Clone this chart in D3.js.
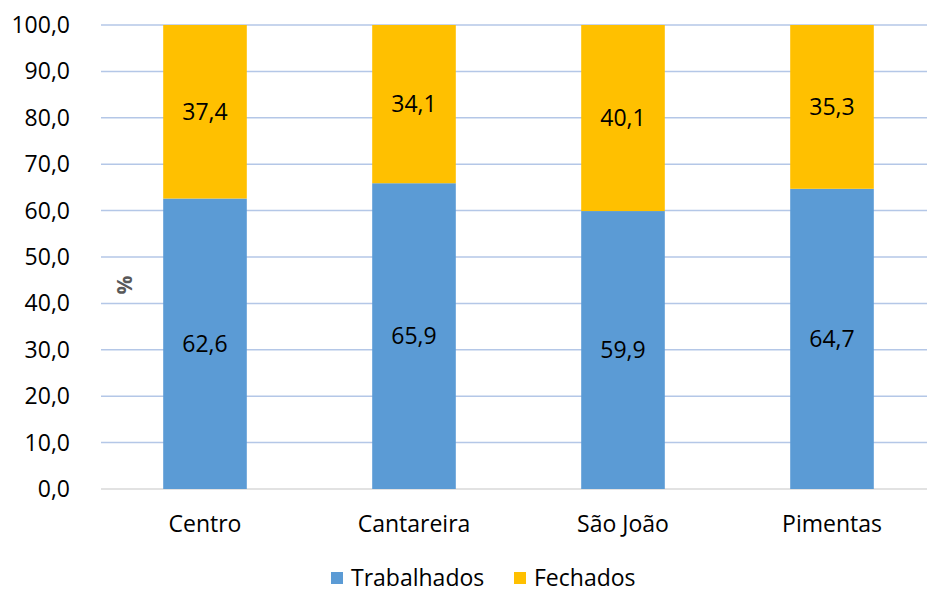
<!DOCTYPE html>
<html>
<head>
  <meta charset="utf-8">
  <script src="https://d3js.org/d3.v7.min.js"></script>
  <style>
    body { margin:0; background:#fff; font-family: "Open Sans", sans-serif; }
    text { font-family: "Open Sans", sans-serif; }
  </style>
</head>
<body>
  <div id="container"></div>
  <script>
    var w = 927, h = 592;

    var categories = ["Centro", "Cantareira", "São João", "Pimentas"];
    var trabalhados = [62.6, 65.9, 59.9, 64.7];
    var fechados = [37.4, 34.1, 40.1, 35.3];
    var yTicks = [0, 10, 20, 30, 40, 50, 60, 70, 80, 90, 100];
    var seriesNames = ["Trabalhados", "Fechados"];
    var colors = ["#5b9bd5", "#ffc000"];

    var svg = d3.select("#container").append("svg")
        .attr("width", w).attr("height", h);

    var x = d3.scaleBand().domain(categories).range([100.5, 936.5]).paddingInner(0.6).paddingOuter(0.3);
    var y = d3.scaleLinear().domain([0, 100]).range([489, 25]);

    var fmt = function(v) { return d3.format(".1f")(v).replace(".", ","); };

    // grid
    svg.append("g").selectAll("line")
      .data(yTicks.filter(function(t){ return t > 0; }))
      .enter().append("line")
        .attr("x1", 101).attr("x2", w)
        .attr("y1", function(d){ return y(d); }).attr("y2", function(d){ return y(d); })
        .style("stroke", "#b4c7e7").style("stroke-width", 1.5);

    svg.append("line")
      .attr("x1", 101).attr("x2", w)
      .attr("y1", y(0)).attr("y2", y(0))
      .style("stroke", "#d9d9d9").style("stroke-width", 1.5);

    // y tick labels
    svg.append("g").selectAll("text")
      .data(yTicks)
      .enter().append("text")
        .attr("x", 70).attr("y", function(d){ return y(d); })
        .attr("dy", "0.35em")
        .attr("text-anchor", "end")
        .style("font-size", "23px").style("fill", "#000")
        .text(fmt);

    // y axis title
    svg.append("text")
      .attr("transform", "translate(132,285) rotate(-90)")
      .attr("text-anchor", "middle")
      .style("font-size", "21px").style("font-weight", "bold").style("fill", "#595959")
      .text("%");

    // stacked bars
    var stacks = categories.map(function(c, i){
      return [
        { cat: c, y0: 0, y1: trabalhados[i], v: trabalhados[i], s: 0 },
        { cat: c, y0: trabalhados[i], y1: trabalhados[i] + fechados[i], v: fechados[i], s: 1 }
      ];
    });
    var segs = [].concat.apply([], stacks);

    svg.append("g").selectAll("rect")
      .data(segs)
      .enter().append("rect")
        .attr("x", function(d){ return x(d.cat); })
        .attr("width", x.bandwidth())
        .attr("y", function(d){ return y(d.y1); })
        .attr("height", function(d){ return y(d.y0) - y(d.y1); })
        .style("fill", function(d){ return colors[d.s]; });

    svg.append("g").selectAll("text")
      .data(segs)
      .enter().append("text")
        .attr("x", function(d){ return x(d.cat) + x.bandwidth() / 2; })
        .attr("y", function(d){ return y((d.y0 + d.y1) / 2); })
        .attr("dy", "0.35em")
        .attr("text-anchor", "middle")
        .style("font-size", "23px").style("fill", "#000")
        .text(function(d){ return fmt(d.v); });

    // category labels
    svg.append("g").selectAll("text")
      .data(categories)
      .enter().append("text")
        .attr("x", function(d){ return x(d) + x.bandwidth() / 2; })
        .attr("y", 524).attr("dy", "0.35em")
        .attr("text-anchor", "middle")
        .style("font-size", "23px").style("fill", "#000")
        .text(function(d){ return d; });

    // legend
    var legendX = [331, 514];
    var leg = svg.append("g").selectAll("g")
      .data(seriesNames)
      .enter().append("g")
        .attr("transform", function(d, i){ return "translate(" + legendX[i] + ",572)"; });
    leg.append("rect").attr("width", 12).attr("height", 12)
      .style("fill", function(d, i){ return colors[i]; });
    leg.append("text").attr("x", 20).attr("y", 6).attr("dy", "0.35em")
      .style("font-size", "23px").style("fill", "#000")
      .text(function(d){ return d; });
  </script>
</body>
</html>
